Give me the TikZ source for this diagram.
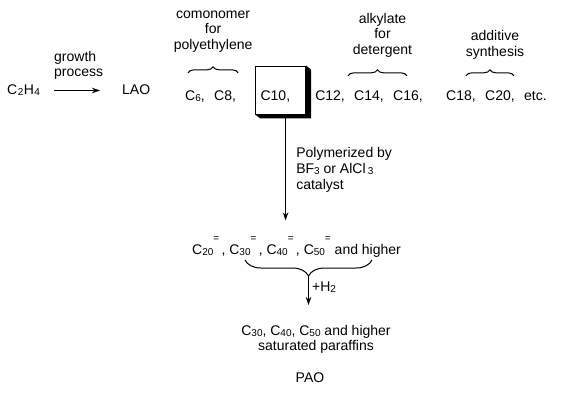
\documentclass[tikz,border=0pt]{standalone}
\usepackage{fontspec}
\setmainfont{Liberation Sans}
\usetikzlibrary{arrows.meta, positioning, calc, decorations.pathreplacing}
\newcommand{\lowsub}[1]{\raisebox{-1pt}{\fontsize{10}{10}\selectfont #1}}
\newcommand{\dbl}{\raisebox{12.5pt}{\fontsize{10}{10}\selectfont =}}
\tikzset{
    chem node/.style={inner sep=0pt, text height=10pt, text depth=3pt, font=\fontsize{14}{15.5}\selectfont},
    label text/.style={inner sep=0pt, align=center, font=\fontsize{14}{15.5}\selectfont},
    side text/.style={inner sep=0pt, align=left, font=\fontsize{14}{16}\selectfont},
    cut box/.style={rectangle, draw=black, fill=white, line width=0.9pt, minimum width=50pt, minimum height=48pt,
        inner xsep=5pt, text width=40pt, align=left, text height=20pt, text depth=0pt, font=\fontsize{14}{15.5}\selectfont},
    arrow style/.style={-{Stealth[length=8pt, width=5.5pt]}, line width=1.4pt, black},
    brace style/.style={decorate, decoration={brace, amplitude=#1}, line width=1pt},
    brace style/.default=6pt,
}
\begin{document}
\begin{tikzpicture}[x=1pt, y=-1pt]
    \useasboundingbox (0,0) rectangle (570,400);
    % growth step
    \node[chem node, anchor=base west] (c2h4) at (7,94) {C\kern0.5pt\lowsub{2}\kern0.5ptH\kern0.5pt\lowsub{4}};
    \node[chem node, anchor=base west] (lao) at (122,94) {LAO};
    \draw[arrow style, shorten <=14pt, shorten >=22pt] (c2h4) -- (lao);
    \node[label text, align=left, anchor=south west] (growth) at (54,80) {growth\\process};
    % carbon cuts
    \node[chem node, anchor=base west] (c6) at (185,100) {C\lowsub{6},};
    \node[chem node, right=9pt of c6] (c8) {C8,};
    \node[cut box, right=19pt of c8.base east, anchor=base west] (box) {C10,};
    \fill (box.north east) -- ++(5,4) -- ([shift={(5,4)}]box.south east) -- ([shift={(5,4)}]box.south west)
        -- (box.south west) -- (box.south east) -- cycle;
    \node[chem node, right=9pt of box.base east, anchor=base west] (c12) {C12,};
    \node[chem node, right=9pt of c12] (c14) {C14,};
    \node[chem node, right=9pt of c14] (c16) {C16,};
    \node[chem node, right=23pt of c16] (c18) {C18,};
    \node[chem node, right=9pt of c18] (c20) {C20,};
    \node[chem node, right=9pt of c20] (etc) {etc.};
    % uses
    \draw[brace style] ([xshift=3pt, yshift=17pt]c6.north west) -- ([xshift=2pt, yshift=17pt]c8.north east)
        node[label text, midway, above=20pt] (comon) {comonomer\\for\\polyethylene};
    \draw[brace style] ([xshift=-6pt, yshift=14pt]c14.north west) -- ([xshift=-16pt, yshift=14pt]c16.north east)
        node[label text, midway, above=18pt, xshift=5pt] (alkyl) {alkylate\\for\\detergent};
    \draw[brace style] ([xshift=20pt, yshift=14pt]c18.north west) -- ([xshift=-1pt, yshift=14pt]c20.north east)
        node[label text, midway, above=16pt, xshift=5pt] (addit) {additive\\synthesis};
    % polymerization
    \coordinate (pend) at ([xshift=5pt, yshift=-106pt]box.south);
    \draw[arrow style] ([xshift=5pt, yshift=-4pt]box.south) -- (pend)
        node[side text, midway, right=10pt] (cat) {Polymerized by\\BF\lowsub{3} or AlCl\,\lowsub{3}\\catalyst};
    \node[chem node, anchor=base west] (olig) at (192,254)
        {C\lowsub{20}\dbl\,, C\lowsub{30}\dbl\,, C\lowsub{40}\dbl\,, C\lowsub{50}\dbl\ and higher};
    % hydrogenation
    \coordinate (bra) at ([xshift=180pt, yshift=-6pt]olig.base west);
    \coordinate (brb) at ([xshift=53pt, yshift=-6pt]olig.base west);
    \draw[brace style=16pt] (bra) -- (brb);
    \coordinate (btip) at ($(bra)!0.5!(brb) + (0,16)$);
    \coordinate (hend) at ([yshift=-29pt]btip);
    \draw[arrow style] (btip) -- (hend) node[chem node, pos=0.42, right=3pt] (h2) {+H\lowsub{2}};
    \node[label text, anchor=north] (sat) at (316,324.8) {C\lowsub{30}, C\lowsub{40}, C\lowsub{50} and higher\\saturated paraffins};
    \node[chem node, anchor=base] (pao) at (310,382) {PAO};
\end{tikzpicture}
\end{document}
